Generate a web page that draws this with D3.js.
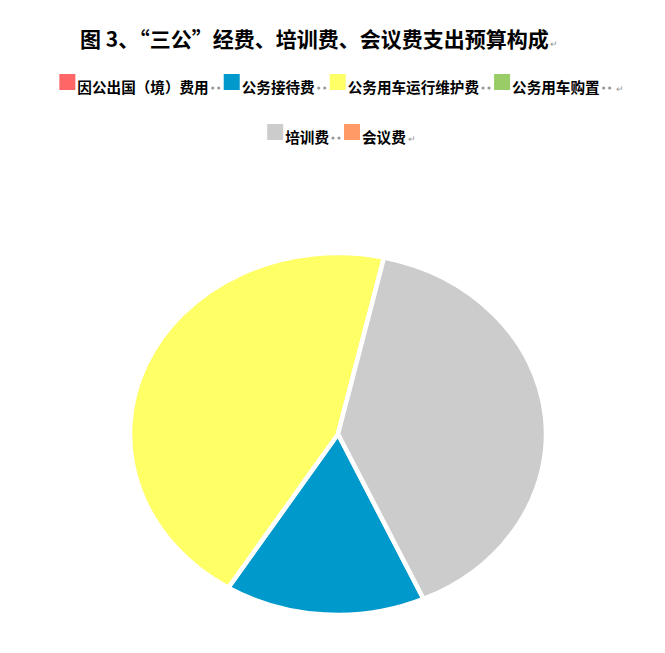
<!DOCTYPE html>
<html>
<head>
<meta charset="utf-8">
<script src="https://cdn.jsdelivr.net/npm/d3@7"></script>
<style>
  body { margin: 0; background: #fff; }
  text { font-family: "Noto Sans CJK SC", "Noto Sans", sans-serif; }
</style>
</head>
<body>
<div id="chart"></div>
<script>
// chart data (shares in %)
var categories = ["因公出国（境）费用", "公务接待费", "公务用车运行维护费", "公务用车购置", "培训费", "会议费"];
var values = [0, 15.6, 44.7, 0, 39.7, 0];
var colors = ["#FF6666", "#0099CC", "#FFFF66", "#99CC66", "#CCCCCC", "#FF9966"];
var legendRows = [[0, 1, 2, 3], [4, 5]];
var title = "图 3、“三公”经费、培训费、会议费支出预算构成";

var width = 665, height = 653;

var svg = d3.select("#chart").append("svg")
    .attr("width", width)
    .attr("height", height);

// title
var titleText = svg.append("text")
    .attr("x", 80)
    .attr("y", 47)
    .style("font-size", "21px")
    .style("font-weight", "bold")
    .attr("fill", "#000")
    .text(title);
var tw = titleText.node().getComputedTextLength();
svg.append("text")
    .attr("x", 80 + tw + 1)
    .attr("y", 47)
    .style("font-size", "9px")
    .attr("fill", "#999")
    .text("↵");

// legend
var sq = 16, gap = 2, dotSpace = 14;
legendRows.forEach(function(row, r) {
    var g = svg.append("g");
    var y = 74 + r * 50;
    var x = 0;
    row.forEach(function(idx, j) {
        g.append("rect")
            .attr("x", x)
            .attr("y", y)
            .attr("width", sq)
            .attr("height", sq)
            .attr("fill", colors[idx]);
        var t = g.append("text")
            .attr("x", x + sq + gap)
            .attr("y", y + 19)
            .style("font-size", "14.6px")
            .style("font-weight", "bold")
            .attr("fill", "#000")
            .text(categories[idx]);
        x += sq + gap + t.node().getComputedTextLength() + 1;
        // the little separator dots
        if (j < row.length - 1 || r == 0) {
            [3, 9].forEach(function(dx) {
                g.append("circle")
                    .attr("cx", x + dx)
                    .attr("cy", y + 14)
                    .attr("r", 1.6)
                    .attr("fill", "#999");
            });
            x += dotSpace;
        }
    });
    g.append("text")
        .attr("x", x + 1)
        .attr("y", y + 18)
        .style("font-size", "9px")
        .attr("fill", "#999")
        .text("↵");
    x += 8;
    g.attr("transform", "translate(" + (341 - x / 2) + ",0)");
});

// pie (drawn as an ellipse)
var cx = 338, cy = 434, rx = 208, ry = 181;
var start = 155.7 * Math.PI / 180;

var pie = d3.pie()
    .sort(null)
    .value(function(d) { return d.value; })
    .startAngle(start)
    .endAngle(start + 2 * Math.PI);

var arc = d3.arc()
    .innerRadius(0)
    .outerRadius(rx);

var pieData = pie(values.map(function(v, i) {
    return { value: v, color: colors[i], name: categories[i] };
})).filter(function(d) { return d.data.value > 0; });

var pieG = svg.append("g")
    .attr("transform", "translate(" + cx + "," + cy + ") scale(1," + (ry / rx) + ")");

pieG.selectAll("path")
    .data(pieData)
    .enter().append("path")
    .attr("d", arc)
    .attr("fill", function(d) { return d.data.color; })
    .attr("stroke", "#fff")
    .attr("stroke-width", 4.5)
    .attr("vector-effect", "non-scaling-stroke");
</script>
</body>
</html>
